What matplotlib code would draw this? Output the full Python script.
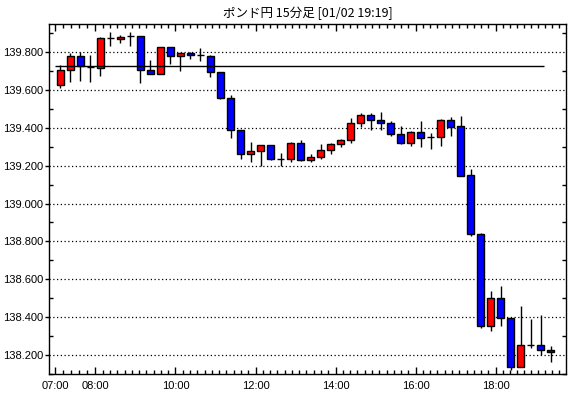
import numpy as np
import matplotlib
matplotlib.use("Agg")
import matplotlib.pyplot as plt

plt.rcParams['font.family'] = ['Liberation Sans', 'DejaVu Sans']

title = "ポンド円 15分足 [01/02 19:19]"

opens = [139.626, 139.705, 139.779, 139.723, 139.714, 139.872, 139.868, 139.884, 139.886, 139.705,
         139.684, 139.826, 139.779, 139.795, 139.784, 139.779, 139.693, 139.557, 139.387, 139.264,
         139.275, 139.307, 139.237, 139.237, 139.319, 139.230, 139.248, 139.282, 139.312, 139.333,
         139.423, 139.470, 139.442, 139.426, 139.368, 139.321, 139.379, 139.351, 139.353, 139.442,
         139.411, 139.152, 138.839, 138.355, 138.501, 138.396, 138.135, 138.255, 138.255, 138.229]
highs = [139.732, 139.795, 139.798, 139.786, 139.881, 139.907, 139.891, 139.907, 139.886, 139.758,
         139.826, 139.826, 139.795, 139.800, 139.821, 139.784, 139.693, 139.572, 139.387, 139.324,
         139.307, 139.307, 139.266, 139.324, 139.335, 139.259, 139.314, 139.319, 139.340, 139.450,
         139.480, 139.476, 139.484, 139.437, 139.407, 139.384, 139.437, 139.374, 139.447, 139.458,
         139.464, 139.184, 138.844, 138.540, 138.563, 138.396, 138.457, 138.392, 138.410, 138.246]
lows = [139.609, 139.640, 139.649, 139.644, 139.675, 139.830, 139.846, 139.833, 139.635, 139.684,
        139.684, 139.737, 139.702, 139.761, 139.751, 139.667, 139.550, 139.348, 139.236, 139.220,
        139.200, 139.230, 139.200, 139.220, 139.225, 139.220, 139.237, 139.262, 139.301, 139.320,
        139.402, 139.390, 139.389, 139.358, 139.314, 139.305, 139.298, 139.289, 139.305, 139.358,
        139.147, 138.830, 138.343, 138.325, 138.355, 138.123, 138.135, 138.237, 138.202, 138.163]
closes = [139.705, 139.779, 139.726, 139.723, 139.874, 139.872, 139.881, 139.884, 139.705, 139.684,
          139.826, 139.779, 139.795, 139.784, 139.784, 139.693, 139.557, 139.387, 139.264, 139.275,
          139.307, 139.236, 139.237, 139.319, 139.230, 139.248, 139.282, 139.314, 139.335, 139.423,
          139.470, 139.443, 139.426, 139.368, 139.319, 139.379, 139.347, 139.351, 139.442, 139.405,
          139.147, 138.839, 138.355, 138.501, 138.396, 138.135, 138.255, 138.255, 138.229, 138.216]

ref_price = 139.726
tick_hours = [7, 8, 10, 12, 14, 16, 18]
tick_labels = ["07:00", "08:00", "10:00", "12:00", "14:00", "16:00", "18:00"]
y_ticks = [138.2, 138.4, 138.6, 138.8, 139.0, 139.2, 139.4, 139.6, 139.8]
y_labels = ["138.200", "138.400", "138.600", "138.800", "139.000", "139.200", "139.400", "139.600", "139.800"]

W, H = 570, 398
fig = plt.figure(figsize=(W / 100, H / 100), dpi=100)
fig.patch.set_facecolor('white')
L, R, T, B = 49, 566, 24, 374
ax = fig.add_axes([L / W, 1 - B / H, (R - L) / W, (B - T) / H])

n = len(opens)
x = np.arange(n)
o = np.array(opens); c = np.array(closes); h = np.array(highs); l = np.array(lows)

# wicks
ax.vlines(x, l, h, color='black', linewidth=1, zorder=2)
# bodies
cols = ['#ff0000' if cc > oo else ('#0000ff' if cc < oo else 'black') for oo, cc in zip(o, c)]
bottoms = np.minimum(o, c)
heights = np.abs(c - o)
ax.bar(x, heights, bottom=bottoms, width=0.65, color=cols, edgecolor='black',
       linewidth=1, zorder=3)

# reference line
ax.hlines(ref_price, -0.5, 48.3, color='black', linewidth=1, zorder=4)

ax.set_xlim(-1.14, 50.53)
ax.set_ylim(138.10, 139.948)

# y ticks
ax.set_yticks(y_ticks)
ax.set_yticklabels(y_labels, fontsize=8)
ax.set_yticks(np.arange(138.1, 139.95, 0.1), minor=True)
ax.tick_params(axis='y', which='major', direction='out', length=3, width=1,
               left=True, right=False, pad=1, labelsize=8)
ax.tick_params(axis='y', which='minor', direction='in', length=3, width=1,
               left=True, right=True)
ax.grid(axis='y', which='major', color='black', linestyle=(0, (1, 2)), linewidth=0.9, zorder=1)

# x ticks
xmaj = [(hh - 7) * 4 - 0.5 for hh in tick_hours]
ax.set_xticks(xmaj)
ax.set_xticklabels(tick_labels, fontsize=8)
edges = [-1.14] + xmaj + [50.53]
minor = []
for a, b in zip(edges[:-1], edges[1:]):
    k = max(1, int(round((b - a) / 0.73)))
    minor.extend(list(np.linspace(a, b, k + 1)[1:-1]))
ax.set_xticks(minor, minor=True)
ax.tick_params(axis='x', which='major', direction='in', length=5, width=1,
               top=True, bottom=True, pad=5, labelsize=8)
ax.tick_params(axis='x', which='minor', direction='in', length=3, width=1,
               top=True, bottom=True)

for s in ax.spines.values():
    s.set_linewidth(1)
    s.set_color('black')

ax.set_title(title, fontsize=9, family=['Noto Sans CJK JP', 'DejaVu Sans'], pad=5)

fig.savefig('out.png', dpi=100)
